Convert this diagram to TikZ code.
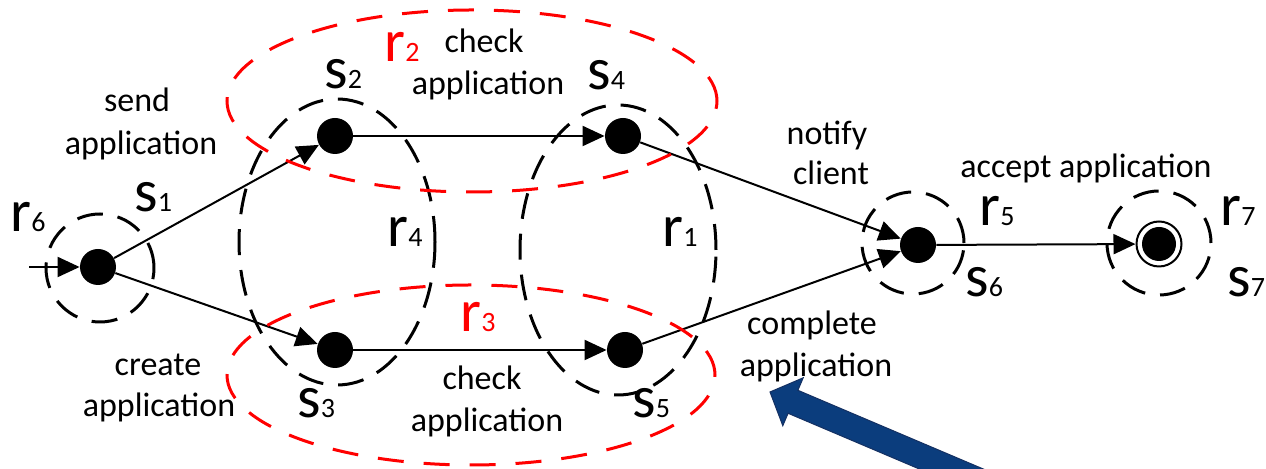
\documentclass[tikz,border=0pt]{standalone}
\usepackage{fontspec}
\setmainfont{Carlito}
\usetikzlibrary{arrows.meta}
\newcommand{\mylab}[2]{{\fontsize{30pt}{36pt}\selectfont #1}{\fontsize{14pt}{17pt}\selectfont #2}}
\definecolor{bluearrow}{RGB}{11,61,125}
\definecolor{bluearrowedge}{RGB}{20,48,98}
\begin{document}
\begin{tikzpicture}[x=0.5pt,y=-0.5pt,
  state/.style={circle,fill=black,inner sep=0pt,minimum size=18pt},
  edge/.style={line width=1pt,-{Triangle[length=11pt,width=10pt]}},
  bdash/.style={draw=black,line width=1.5pt,dash pattern=on 13pt off 7.5pt},
  rdash/.style={draw=red,line width=1.5pt,dash pattern=on 13pt off 10pt},
  lbl/.style={inner sep=0pt,anchor=base west},
  txt/.style={inner sep=0pt,anchor=base,font=\fontsize{17pt}{21pt}\selectfont}]
\useasboundingbox (0,0) rectangle (1266,469);

% states
\node[state] (s1) at (98,267) {};
\node[state] (s2) at (335,136) {};
\node[state] (s3) at (335,350) {};
\node[state] (s4) at (623,136) {};
\node[state] (s5) at (625,350) {};
\node[state] (s6) at (918,245) {};
\node[circle,draw,line width=1pt,inner sep=0pt,minimum size=22.5pt,
  path picture={\fill[black] (path picture bounding box.center) circle (8.5pt);}] (s7) at (1159,244) {};
\coordinate (in) at (29,267);

% transitions
\draw[edge] (in) -- (s1);
\draw[edge] (s1) -- (s2);
\draw[edge] (s1) -- (s3);
\draw[edge] (s2) -- (s4);
\draw[edge] (s3) -- (s5);
\draw[edge] (s4) -- (s6);
\draw[edge] (s5) -- (s6);
\draw[edge] (s6) -- (s7);

% regions
\draw[bdash] (100,268) circle [x radius=27pt, y radius=27pt];
\draw[bdash] (913,243) circle [x radius=25.5pt, y radius=25.5pt];
\draw[bdash] (1159,243) circle [x radius=26pt, y radius=26pt];
\draw[bdash] (337,242) ellipse [x radius=49pt, y radius=71.5pt];
\draw[bdash] (618,250) ellipse [x radius=49pt, y radius=72.5pt];
\draw[rdash] (472,101) ellipse [x radius=122.5pt, y radius=45.5pt];
\draw[rdash] (471,375) ellipse [x radius=122pt, y radius=45pt];

% state and region labels
\node[lbl] (lr6) at (10,232) {\mylab{r}{6}};
\node[lbl] (ls1) at (134,212) {\mylab{s}{1}};
\node[lbl] (ls2) at (324,89) {\mylab{s}{2}};
\node[lbl] (ls3) at (297,418) {\mylab{s}{3}};
\node[lbl] (ls4) at (587,90) {\mylab{s}{4}};
\node[lbl] (ls5) at (632,418) {\mylab{s}{5}};
\node[lbl] (ls6) at (965,297) {\mylab{s}{6}};
\node[lbl] (ls7) at (1227,297) {\mylab{s}{7}};
\node[lbl] (lr1) at (662,247) {\mylab{r}{1}};
\node[lbl] (lr4) at (387,247) {\mylab{r}{4}};
\node[lbl,text=red] (lr2) at (384,62) {\mylab{r}{2}};
\node[lbl,text=red] (lr3) at (460,332) {\mylab{r}{3}};
\node[lbl] (lr5) at (979,226) {\mylab{r}{5}};
\node[lbl] (lr7) at (1220,226) {\mylab{r}{7}};

% action labels
\node[txt] (t1a) at (137,112) {send};
\node[txt] (t1b) at (141,155) {application};
\node[txt] (t2a) at (158,376) {create};
\node[txt] (t2b) at (159,417) {application};
\node[txt] (t3a) at (484,53) {check};
\node[txt] (t3b) at (488,95) {application};
\node[txt] (t4a) at (482,390) {check};
\node[txt] (t4b) at (487,432) {application};
\node[txt] (t5a) at (827,145) {notify};
\node[txt] (t5b) at (831,185) {client};
\node[txt] (t6a) at (812,335) {complete};
\node[txt] (t6b) at (816,377) {application};
\node[txt] (t7) at (1086,178) {accept application};

% big blue pointer arrow
\begin{scope}
\clip (0,0) rectangle (1266,469);
\filldraw[fill=bluearrow,draw=bluearrowedge,line width=0.5pt]
  (770,392) -- (803.2,377.8) -- (797.9,390.3) -- (1028,488)
  -- (1018.2,511) -- (788.1,413.3) -- (782.8,425.7) -- cycle;
\end{scope}
\end{tikzpicture}
\end{document}
